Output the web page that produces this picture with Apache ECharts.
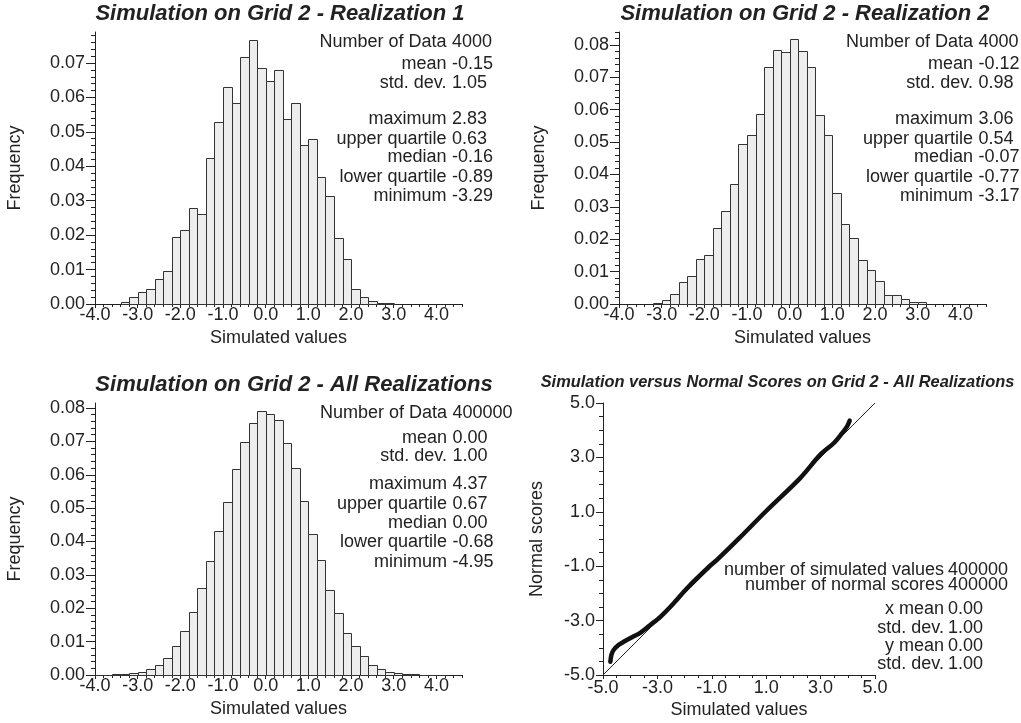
<!DOCTYPE html>
<html>
<head>
<meta charset="utf-8">
<script src="https://cdn.jsdelivr.net/npm/echarts@6/dist/echarts.min.js"></script>
<style>
html,body{margin:0;padding:0;background:#fff;}
#chart{width:1021px;height:723px;}
</style>
</head>
<body>
<div id="chart"></div>
<script>
// ---------------- DATA ----------------
const binStarts = [-4.0,-3.8,-3.6,-3.4,-3.2,-3.0,-2.8,-2.6,-2.4,-2.2,-2.0,-1.8,-1.6,-1.4,-1.2,-1.0,-0.8,-0.6,-0.4,-0.2,
  0.0,0.2,0.4,0.6,0.8,1.0,1.2,1.4,1.6,1.8,2.0,2.2,2.4,2.6,2.8,3.0,3.2,3.4,3.6,3.8,4.0,4.2,4.4];
const binWidth = 0.2;

const freqReal1 = [0,0,0,0.0006,0.0021,0.0036,0.0043,0.0072,0.0097,0.0196,0.0215,0.0279,0.0260,0.0425,0.0529,0.0629,0.0584,0.0717,0.0768,0.0686,
  0.0649,0.0679,0.0537,0.0584,0.0463,0.0480,0.0370,0.0313,0.0193,0.0132,0.0043,0.0021,0.0009,0.0004,0.0003,0,0,0,0,0,0,0,0];
const freqReal2 = [0,0,0,0,0.0004,0.0012,0.0031,0.0068,0.0087,0.0138,0.0152,0.0236,0.0288,0.0370,0.0494,0.0523,0.0586,0.0732,0.0785,0.0779,
  0.0819,0.0782,0.0732,0.0584,0.0521,0.0343,0.0248,0.0203,0.0136,0.0105,0.0072,0.0029,0.0027,0.0014,0.0006,0.0005,0,0,0,0,0,0,0];
const freqAll = [0.0001,0.0001,0.0002,0.0003,0.0005,0.0010,0.0017,0.0031,0.0052,0.0086,0.0131,0.0188,0.0260,0.0343,0.0430,0.0517,0.0617,0.0697,0.0755,0.0791,
  0.0782,0.0763,0.0695,0.0619,0.0520,0.0423,0.0344,0.0256,0.0185,0.0125,0.0087,0.0056,0.0031,0.0018,0.0010,0.0005,0.0003,0.0002,0.0001,0.0001,0.0001,0,0];

const histTitles = ['Simulation on Grid 2 - Realization 1','Simulation on Grid 2 - Realization 2','Simulation on Grid 2 - All Realizations'];
const qqTitle = 'Simulation versus Normal Scores on Grid 2 - All Realizations';

const statNames = ['Number of Data','mean','std. dev.','maximum','upper quartile','median','lower quartile','minimum'];
const statsReal1 = ['4000','-0.15','1.05','2.83','0.63','-0.16','-0.89','-3.29'];
const statsReal2 = ['4000','-0.12','0.98','3.06','0.54','-0.07','-0.77','-3.17'];
const statsAll   = ['400000','0.00','1.00','4.37','0.67','0.00','-0.68','-4.95'];

const qqStatNames = ['number of simulated values','number of normal scores','x mean','std. dev.','y mean','std. dev.'];
const qqStatValues = ['400000','400000','0.00','1.00','0.00','1.00'];

// Q-Q curve: simulated value vs normal score
const qqSim  = [-4.73,-4.69,-4.61,-4.43,-4.24,-3.93,-3.63,-3.26,-2.89,-2.40,-1.91,-1.10,-0.81,0.00,1.00,2.25,2.99,3.48,3.79,3.97,4.07];
const qqNorm = [-4.51,-4.26,-4.08,-3.90,-3.78,-3.61,-3.45,-3.16,-2.86,-2.36,-1.81,-1.02,-0.77,0.02,1.03,2.24,3.10,3.52,3.89,4.13,4.35];
const diagLine = [-5, 5];

// tick labels
const histXTicks = [-4,-3,-2,-1,0,1,2,3,4];
const histYTicks1 = [0,0.01,0.02,0.03,0.04,0.05,0.06,0.07];
const histYTicks2 = [0,0.01,0.02,0.03,0.04,0.05,0.06,0.07,0.08];
const histYTicksAll = [0,0.01,0.02,0.03,0.04,0.05,0.06,0.07,0.08];
const qqTicks = [-5,-3,-1,1,3,5];

// ---------------- LAYOUT / STYLE ----------------
const FONT = "'Liberation Sans', Arial, Helvetica, sans-serif";
const INK = '#222';
const chart = echarts.init(document.getElementById('chart'), null, {renderer:'canvas'});

function steps(a, b, s){ const out=[]; const n=Math.round((b-a)/s); for(let i=0;i<=n;i++){ out.push(+(a+i*s).toFixed(6)); } return out; }

const grids = [
  {left:95, top:32, width:367, height:272},
  {left:619, top:32, width:367, height:272},
  {left:95, top:403, width:367, height:272},
  {left:603, top:403, width:272, height:272}
];
const histYMax = [0.079, 0.084, 0.0815];
const histYTickSets = [histYTicks1, histYTicks2, histYTicksAll];
const histData = [freqReal1, freqReal2, freqAll];

const xAxes = [], yAxes = [], series = [];
const nameStyle = {fontFamily:FONT, fontSize:18, color:INK};
const lblStyle = {fontFamily:FONT, fontSize:18, color:INK};

for (let g=0; g<3; g++){
  xAxes.push({type:'value', gridIndex:g, position:'bottom', min:-4, max:4.6,
    axisLine:{show:true, onZero:false, lineStyle:{color:INK, width:1}},
    axisTick:{show:true, length:4, customValues:histXTicks, lineStyle:{color:INK}},
    axisLabel:Object.assign({customValues:histXTicks, formatter:v=>Number(v).toFixed(1), margin:2}, lblStyle),
    splitLine:{show:false},
    name:'Simulated values', nameLocation:'middle', nameGap:25, nameTextStyle:nameStyle});
  xAxes.push({type:'value', gridIndex:g, position:'bottom', min:-4, max:4.6,
    axisLine:{show:false, onZero:false},
    axisTick:{show:true, length:3, customValues:steps(-4,4.6,0.2), lineStyle:{color:INK}},
    axisLabel:{show:false}, splitLine:{show:false}});
  yAxes.push({type:'value', gridIndex:g, position:'left', min:0, max:histYMax[g],
    axisLine:{show:true, onZero:false, lineStyle:{color:INK, width:1}},
    axisTick:{show:true, length:9, customValues:histYTickSets[g], lineStyle:{color:INK}},
    axisLabel:Object.assign({customValues:histYTickSets[g], formatter:v=>Number(v).toFixed(2), margin:10, padding:[0,0,9,0]}, lblStyle),
    splitLine:{show:false},
    name:'Frequency', nameLocation:'middle', nameGap:71, nameTextStyle:nameStyle});
  yAxes.push({type:'value', gridIndex:g, position:'left', min:0, max:histYMax[g],
    axisLine:{show:false, onZero:false},
    axisTick:{show:true, length:4, customValues:steps(0, Math.floor(histYMax[g]/0.002)*0.002, 0.002), lineStyle:{color:INK}},
    axisLabel:{show:false}, splitLine:{show:false}});
  const data = binStarts.map((s,i)=>[s, +(s+binWidth).toFixed(4), histData[g][i]]);
  series.push({type:'custom', xAxisIndex:2*g, yAxisIndex:2*g, data,
    encode:{x:[0,1], y:2},
    renderItem:(params, api)=>{
      const f = api.value(2);
      if (!(f>0)) return null;
      const p0 = api.coord([api.value(0), f]);
      const p1 = api.coord([api.value(1), 0]);
      const x0 = Math.round(p0[0])+0.5, x1 = Math.round(p1[0])+0.5, y0 = Math.round(p0[1])+0.5, y1 = Math.round(p1[1])+0.5;
      return {type:'rect', shape:{x:x0, y:y0, width:x1-x0, height:y1-y0},
        style:{fill:'#ededed', stroke:'#333', lineWidth:1}};
    }});
}

// Q-Q grid (index 3)
xAxes.push({type:'value', gridIndex:3, position:'bottom', min:-5, max:5,
  axisLine:{show:true, onZero:false, lineStyle:{color:INK, width:1}},
  axisTick:{show:true, length:4, customValues:qqTicks, lineStyle:{color:INK}},
  axisLabel:Object.assign({customValues:qqTicks, formatter:v=>Number(v).toFixed(1), margin:4}, lblStyle),
  splitLine:{show:false},
  name:'Simulated values', nameLocation:'middle', nameGap:26, nameTextStyle:nameStyle});
xAxes.push({type:'value', gridIndex:3, position:'bottom', min:-5, max:5,
  axisLine:{show:false, onZero:false},
  axisTick:{show:true, length:3, customValues:steps(-5,5,0.5), lineStyle:{color:INK}},
  axisLabel:{show:false}, splitLine:{show:false}});
yAxes.push({type:'value', gridIndex:3, position:'left', min:-5, max:5,
  axisLine:{show:true, onZero:false, lineStyle:{color:INK, width:1}},
  axisTick:{show:true, length:7, customValues:qqTicks, lineStyle:{color:INK}},
  axisLabel:Object.assign({customValues:qqTicks, formatter:v=>Number(v).toFixed(1), margin:8, padding:[0,0,10,0]}, lblStyle),
  splitLine:{show:false},
  name:'Normal scores', nameLocation:'middle', nameGap:57, nameTextStyle:nameStyle});
yAxes.push({type:'value', gridIndex:3, position:'left', min:-5, max:5,
  axisLine:{show:false, onZero:false},
  axisTick:{show:true, length:4, customValues:steps(-5,5,0.5), lineStyle:{color:INK}},
  axisLabel:{show:false}, splitLine:{show:false}});

series.push({type:'line', xAxisIndex:6, yAxisIndex:6, data:[[diagLine[0],diagLine[0]],[diagLine[1],diagLine[1]]],
  symbol:'none', silent:true, lineStyle:{color:INK, width:1}});
series.push({type:'line', xAxisIndex:6, yAxisIndex:6, data:qqSim.map((x,i)=>[x, qqNorm[i]]),
  symbol:'none', smooth:0.3, silent:true, lineStyle:{color:'#111', width:4.5, cap:'round', join:'round'}});

// ---------------- TEXT ----------------
const graphic = [];
function txt(x, y, text, align, size, extra){
  graphic.push({type:'text', x, y, silent:true, style:Object.assign({text, fill:INK,
    font:(extra||'')+' '+size+'px '+FONT, align, verticalAlign:'middle'})});
}
txt(280, 13.5, histTitles[0], 'center', 22, 'italic bold');
txt(805, 13.5, histTitles[1], 'center', 22, 'italic bold');
txt(294, 385, histTitles[2], 'center', 22, 'italic bold');
txt(777.5, 382, qqTitle, 'center', 16.4, 'italic bold');

const statYTop = [41.7, 64, 83.3, 119.3, 139, 157.3, 176.7, 196];
const statYBot = [413.3, 437.7, 456, 484.3, 504.3, 523.3, 542.3, 562.3];
function statBlock(keyX, ys, vals){
  statNames.forEach((n,i)=>{ txt(keyX, ys[i], n, 'right', 18); txt(keyX+5.5, ys[i], vals[i], 'left', 18); });
}
statBlock(446.5, statYTop, statsReal1);
statBlock(973, statYTop, statsReal2);
statBlock(447, statYBot, statsAll);
const qqY = [570, 585, 609.3, 628.3, 646, 664.3];
qqStatNames.forEach((n,i)=>{ txt(944, qqY[i], n, 'right', 18); txt(948, qqY[i], qqStatValues[i], 'left', 18); });

chart.setOption({
  animation:false,
  backgroundColor:'#fff',
  grid:grids.map(g=>Object.assign({containLabel:false}, g)),
  xAxis:xAxes, yAxis:yAxes, series, graphic
});
</script>
</body>
</html>
